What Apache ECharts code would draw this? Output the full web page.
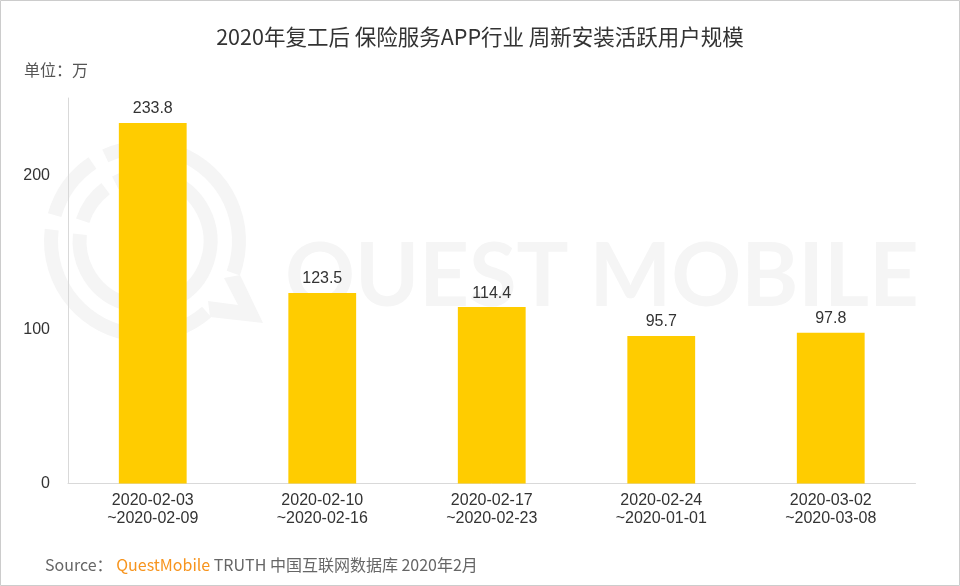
<!DOCTYPE html>
<html><head><meta charset="utf-8">
<style>html,body{margin:0;padding:0;background:#fff}#c{width:960px;height:586px}</style>
<script src="https://cdn.jsdelivr.net/npm/echarts@6/dist/echarts.min.js"></script>
</head><body><div id="c"></div>
<script>
const categories = ['2020-02-03\n~2020-02-09','2020-02-10\n~2020-02-16','2020-02-17\n~2020-02-23','2020-02-24\n~2020-01-01','2020-03-02\n~2020-03-08'];
const values = [233.8,123.5,114.4,95.7,97.8];
const titleText = '2020年复工后 保险服务APP行业 周新安装活跃用户规模';
const unitText = '单位：万';
const LATIN = '"Liberation Sans","Noto Sans CJK SC",sans-serif';
const CJK = '"Noto Sans CJK SC","Noto Sans",sans-serif';
const WM = '#f5f5f5';
const cx = 145, cy = 241;
const rad = d => d * Math.PI / 180;
const arc = (r, a, b) => ({type:'arc', silent:true, z:0,
  shape:{cx, cy, r, startAngle:rad(a), endAngle:rad(b), clockwise:true},
  style:{stroke:WM, lineWidth:14, fill:'none'}});
const chart = echarts.init(document.getElementById('c'), null, {renderer:'canvas'});
chart.setOption({
  animation:false,
  backgroundColor:'#fff',
  title:{text:titleText, left:'center', top:21,
    textStyle:{fontFamily:CJK, fontSize:21.5, fontWeight:400, color:'#333'}},
  grid:{left:68, right:44.5, top:98, bottom:102.5, containLabel:false},
  xAxis:{type:'category', data:categories,
    axisLine:{lineStyle:{color:'#d9d9d9', width:1}}, axisTick:{show:false},
    axisLabel:{fontFamily:LATIN, fontSize:16, color:'#333', lineHeight:18, margin:8, interval:0}},
  yAxis:{type:'value', min:0, max:250, interval:100,
    axisLine:{show:true, lineStyle:{color:'#d9d9d9', width:1}}, axisTick:{show:false}, splitLine:{show:false},
    axisLabel:{fontFamily:LATIN, fontSize:16, color:'#333', margin:18, showMaxLabel:false}},
  series:[{type:'bar', data:values, barWidth:'40%', itemStyle:{color:'#ffcc00'}, z:2,
    label:{show:true, position:'top', distance:6, fontFamily:LATIN, fontSize:16, color:'#333'}}],
  graphic:[
    {type:'rect', silent:true, z:10, shape:{x:0.5,y:0.5,width:959,height:585}, style:{stroke:'#ccc', lineWidth:1, fill:'none'}},
    arc(94,196,236), arc(94,245,380), arc(94,49,187),
    arc(65.5,198,233), arc(65.5,243,546),
    {type:'polygon', silent:true, z:0, shape:{points:[[240,275],[263,323],[210,317],[208,301],[238,305],[224,278]]}, style:{fill:WM}},
    {type:'text', silent:true, z:0, x:285, y:234, scaleX:0.984, style:{text:'QUEST MOBILE', fontFamily:'Lato,"Noto Sans",sans-serif', fontWeight:700, fontSize:88, fill:WM, textVerticalAlign:'top'}},
    {type:'text', silent:true, x:24, y:62, style:{text:unitText, fontFamily:CJK, fontSize:16, fill:'#555'}},
    {type:'text', silent:true, x:45, y:557, style:{
      text:'{s|Source： }{q|QuestMobile}{s| TRUTH 中国互联网数据库 2020年2月}',
      rich:{s:{fontFamily:CJK, fontSize:16, fill:'#666', color:'#666'}, q:{fontFamily:CJK, fontSize:16, fill:'#f7941d', color:'#f7941d'}}}}
  ]
});
</script></body></html>
